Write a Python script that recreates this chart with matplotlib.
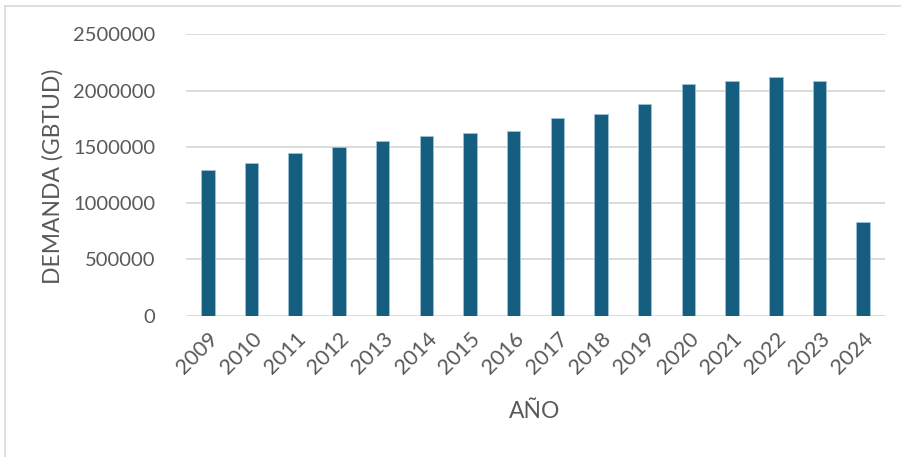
import matplotlib
matplotlib.use("Agg")
import matplotlib.pyplot as plt
from matplotlib.lines import Line2D

years = ["2009", "2010", "2011", "2012", "2013", "2014", "2015", "2016",
         "2017", "2018", "2019", "2020", "2021", "2022", "2023", "2024"]
demanda = [1294000, 1359000, 1445000, 1499000, 1549000, 1594000, 1620000, 1638000,
           1754000, 1789000, 1881000, 2061000, 2085000, 2121000, 2085000, 832000]
yticks = [0, 500000, 1000000, 1500000, 2000000, 2500000]

plt.rcParams['font.family'] = ['Lato', 'DejaVu Sans']
W, H = 901, 457
fig = plt.figure(figsize=(W / 100, H / 100), dpi=100)
ax = fig.add_axes([186 / W, 1 - 315.7 / H, (885 - 186) / W, (315.7 - 34.3) / H])

x = list(range(len(years)))
ax.bar(x, demanda, width=0.31, color="#165E80", edgecolor="#9FC3D6", linewidth=0.6, zorder=3)
ax.set_xlim(-0.5, len(years) - 0.5)
ax.set_ylim(0, 2500000)
ax.set_yticks(yticks)
ax.set_yticklabels([str(v) for v in yticks], fontsize=14.5, color="#595959")
ax.set_xticks(x)
ax.set_xticklabels(years, rotation=45, ha="right", va="top", rotation_mode="anchor",
                   fontsize=15.5, color="#595959")
ax.tick_params(axis="both", length=0)
ax.tick_params(axis="y", pad=22)
ax.tick_params(axis="x", pad=9)
ax.grid(axis="y", color="#D9D9D9", linewidth=1.3, zorder=0)
for s in ax.spines.values():
    s.set_visible(False)

fig.text(53 / W, 1 - 176 / H, "DEMANDA (GBTUD)", rotation=90, ha="center", va="center",
         fontsize=16.5, color="#595959")
fig.text(535 / W, 1 - 412 / H, "AÑO", ha="center", va="center", fontsize=16.5, color="#595959")

fig.add_artist(Line2D([4.5 / W, 4.5 / W], [0, 1 - 5.5 / H], transform=fig.transFigure,
                      color="#D9D9D9", linewidth=1.2))
fig.add_artist(Line2D([4.5 / W, 1], [1 - 5.5 / H, 1 - 5.5 / H], transform=fig.transFigure,
                      color="#D9D9D9", linewidth=1.2))

fig.savefig("out.png", dpi=100)
